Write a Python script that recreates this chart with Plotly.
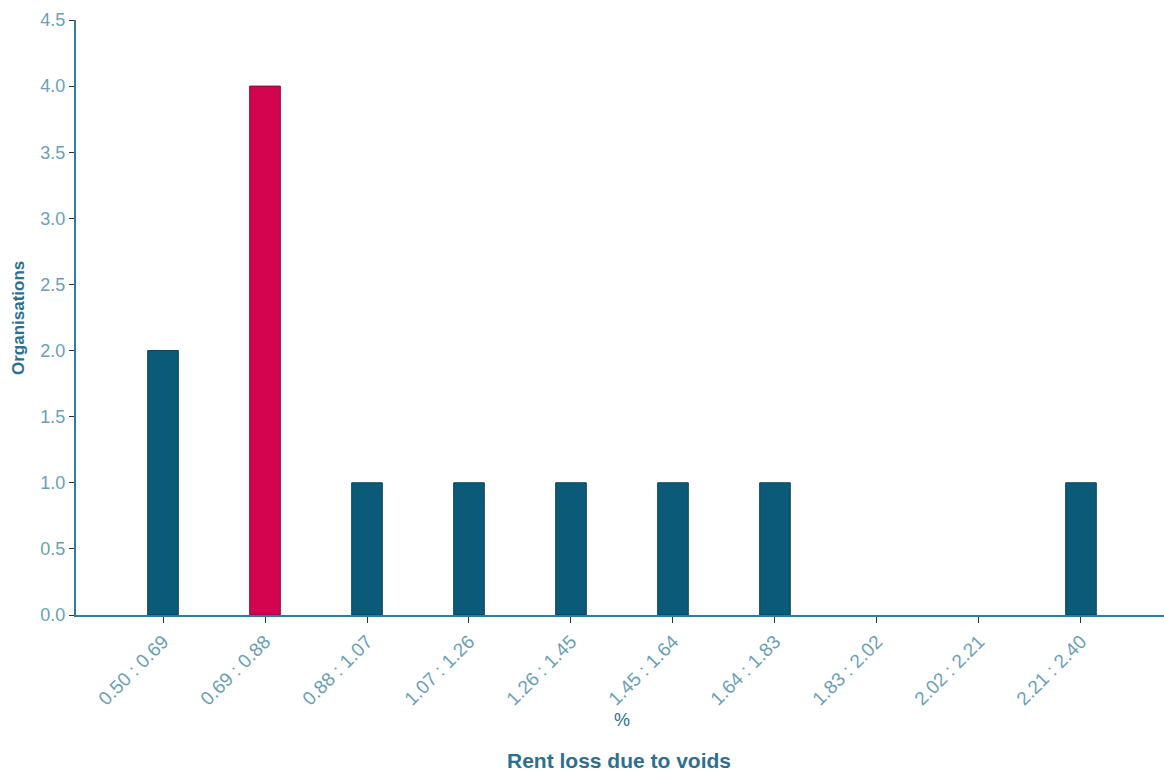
import plotly.graph_objects as go

# Histogram bins of rent loss due to voids (%) and organisation counts
bins = ["0.50 : 0.69", "0.69 : 0.88", "0.88 : 1.07", "1.07 : 1.26", "1.26 : 1.45",
        "1.45 : 1.64", "1.64 : 1.83", "1.83 : 2.02", "2.02 : 2.21", "2.21 : 2.40"]
counts = [2, 4, 1, 1, 1, 1, 1, 0, 0, 1]
highlight_bin = "0.69 : 0.88"

BASE = "#0a5a78"
HIGHLIGHT = "#d4054f"
AXIS = "#2e7ea0"
TICK_TEXT = "#6a9fb6"
TITLE = "#2d6f8f"

colors = [HIGHLIGHT if b == highlight_bin else BASE for b in bins]
edges = ["#8a0735" if b == highlight_bin else "#06435a" for b in bins]
edge_widths = [1 if c > 0 else 0 for c in counts]

fig = go.Figure(go.Bar(
    x=list(range(len(bins))),
    y=counts,
    width=0.3,
    marker=dict(color=colors, line=dict(color=edges, width=edge_widths)),
    hovertemplate="%{text}: %{y}<extra></extra>",
    text=bins,
    textposition="none",
))

W, H = 1164, 771
L, R, T, B = 76, 0, 20, 156

fig.update_layout(
    width=W, height=H,
    margin=dict(l=L, r=R, t=T, b=B),
    paper_bgcolor="white", plot_bgcolor="white",
    showlegend=False,
    font=dict(family="Liberation Sans, Arial, sans-serif"),
    xaxis=dict(
        range=[-0.853, 9.814],
        tickmode="array",
        tickvals=list(range(len(bins))),
        ticktext=bins,
        tickangle=-45,
        tickfont=dict(size=19, color=TICK_TEXT),
        ticks="outside", ticklen=6, tickcolor="#333333",
        showline=True, linecolor=AXIS, linewidth=2,
        showgrid=False, zeroline=False,
    ),
    yaxis=dict(
        range=[0, 4.5],
        dtick=0.5,
        tickformat=".1f",
        tickfont=dict(size=18, color=TICK_TEXT),
        ticks="outside", ticklen=5, tickcolor="#333333",
        showline=True, linecolor=AXIS, linewidth=2,
        showgrid=False, zeroline=False,
    ),
)

# Axis titles placed in pixel terms around the plot area
plot_w = W - L - R
plot_h = H - T - B


def px_x(px):
    return (px - L) / plot_w


def px_y(py):
    return (H - B - py) / plot_h


fig.add_annotation(text="%", x=px_x(622), y=px_y(720), xref="paper", yref="paper",
                   showarrow=False, yanchor="middle", font=dict(size=18, color=TITLE))
fig.add_annotation(text="<b>Rent loss due to voids</b>", x=px_x(619), y=px_y(760),
                   xref="paper", yref="paper", showarrow=False, yanchor="middle",
                   font=dict(size=21, color=TITLE))
fig.add_annotation(text="<b>Organisations</b>", x=px_x(18), y=px_y(318), xref="paper",
                   yref="paper", showarrow=False, textangle=-90, xanchor="center",
                   yanchor="middle", font=dict(size=17, color=TITLE))

fig.write_html("out.html")
